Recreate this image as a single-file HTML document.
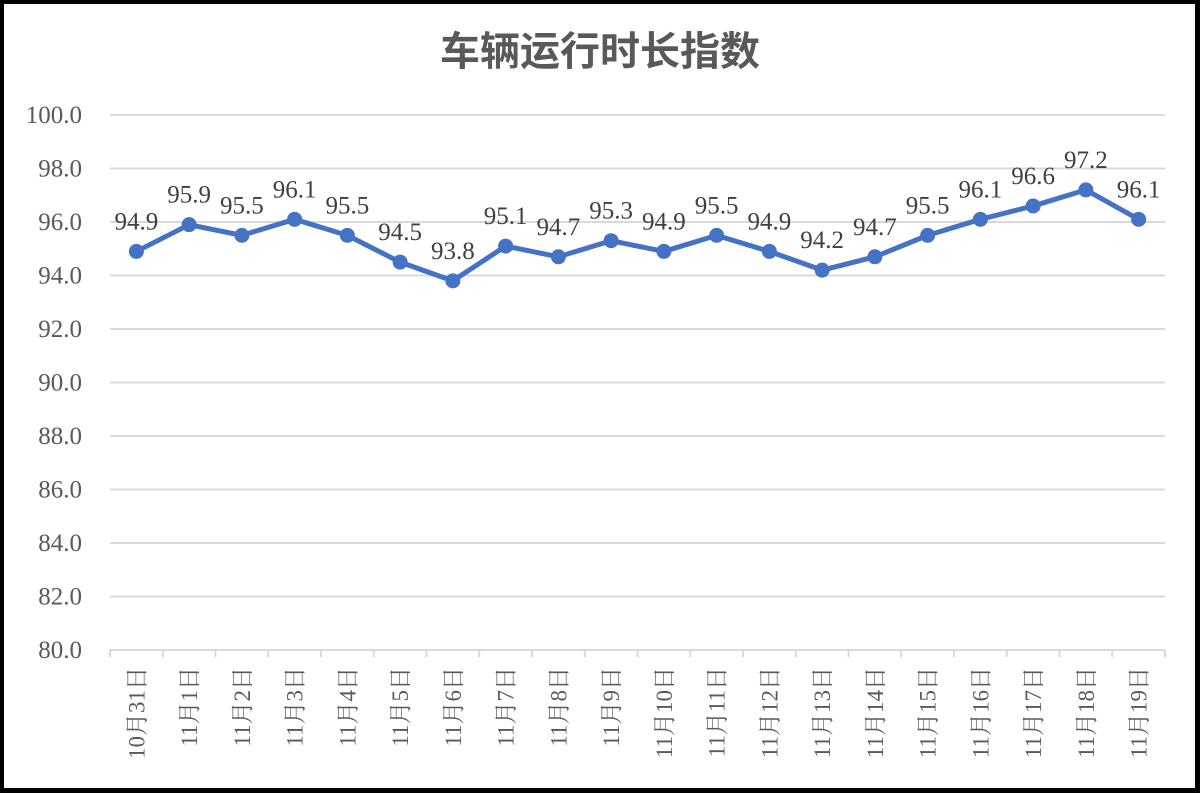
<!DOCTYPE html>
<html><head><meta charset="utf-8"><style>
html,body{margin:0;padding:0;background:#000;}
#frame{position:absolute;left:4px;top:4px;width:1191px;height:784px;background:#fff;}
svg{position:absolute;left:0;top:0;}
</style></head><body>
<div id="frame"></div>
<svg id="chart" width="1200" height="793" font-family="'Liberation Serif','Noto Serif CJK SC',serif">
<text x="600" y="65" text-anchor="middle" font-size="40" font-weight="bold" fill="#595959" font-family="'Liberation Sans','Noto Sans CJK SC',sans-serif">车辆运行时长指数</text>
<g id="grid"></g><g id="xaxis"></g><g id="series"></g>
</svg>
<script>
const categories=["10月31日","11月1日","11月2日","11月3日","11月4日","11月5日","11月6日","11月7日","11月8日","11月9日","11月10日","11月11日","11月12日","11月13日","11月14日","11月15日","11月16日","11月17日","11月18日","11月19日"];
const values=[94.9,95.9,95.5,96.1,95.5,94.5,93.8,95.1,94.7,95.3,94.9,95.5,94.9,94.2,94.7,95.5,96.1,96.6,97.2,96.1];
const yTicks=[80,82,84,86,88,90,92,94,96,98,100];
const L=110,R=1165,T=115,B=650,yMin=80,yMax=100;
const bw=(R-L)/categories.length;
const xs=i=>L+bw*(i+0.5);
const ys=v=>B-(v-yMin)/(yMax-yMin)*(B-T);
const NS="http://www.w3.org/2000/svg";
function mk(t,a,p){const e=document.createElementNS(NS,t);for(const k in a)e.setAttribute(k,a[k]);p.appendChild(e);return e;}
const grid=document.getElementById('grid'),xa=document.getElementById('xaxis'),se=document.getElementById('series');
yTicks.forEach(v=>{
 const l=mk('line',{x1:L,x2:R,y1:ys(v),y2:ys(v),stroke:'#d9d9d9','stroke-width':2},grid);
 
 
 const t=mk('text',{x:82,y:ys(v)+8,'text-anchor':'end','font-size':25,fill:'#595959'},grid);
 t.textContent=v.toFixed(1);
 
 
});
for(let i=0;i<=categories.length;i++){
 const tk=mk('line',{x1:L+bw*i,x2:L+bw*i,y1:B,y2:B+7,stroke:'#d9d9d9','stroke-width':2},xa);
 
 
}
categories.forEach((c,i)=>{
 const x=xs(i)+8,y=667;
 const t=mk('text',{x:x,y:y,'text-anchor':'end','font-size':23,fill:'#595959',transform:`rotate(-90 ${x} ${y})`},xa);
 t.textContent=c;
 
 
});
const pl=mk('polyline',{points:values.map((v,i)=>xs(i)+','+ys(v)).join(' '),fill:'none',stroke:'#4472c4','stroke-width':5,'stroke-linejoin':'round'},se);


values.forEach((v,i)=>{
 const c=mk('circle',{cx:xs(i),cy:ys(v),r:7.5,fill:'#4472c4'},se);
 
 
 const t=mk('text',{x:xs(i),y:ys(v)-22,'text-anchor':'middle','font-size':25,fill:'#404040'},se);
 t.textContent=v.toFixed(1);
 
 
});
</script>
</body></html>
